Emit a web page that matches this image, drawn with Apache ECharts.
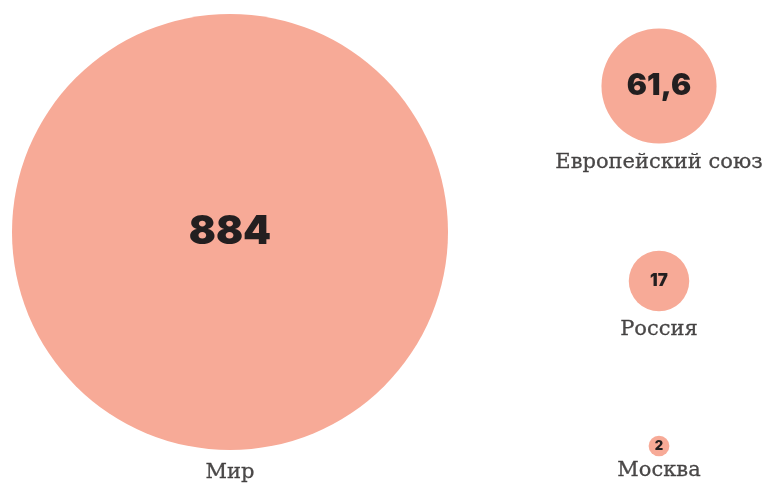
<!DOCTYPE html>
<html lang="ru">
<head>
    <meta charset="UTF-8">
    <title>Пузыри</title>
    <style>
        body { margin: 0; padding: 0; background: #fff; }
        #chart { width: 768px; height: 484px; }
    </style>
    <script src="https://cdn.jsdelivr.net/npm/echarts@6/dist/echarts.min.js"></script>
</head>
<body>
    <div id="chart"></div>
    <script>
        // данные
        const names = ['Мир', 'Европейский союз', 'Россия', 'Москва'];
        const values = [884, 61.6, 17, 2];
        const valueLabels = ['884', '61,6', '17', '2'];

        // раскладка: центры кругов, размер шрифта числа, отступ подписи
        const posX = [230, 659, 659, 659];
        const posY = [232, 86, 281, 446];
        const numFont = [40, 30, 17, 13];
        const nameGap = [12, 9, 8, 4];

        const maxDiam = 436;
        const maxVal = values[0];
        function diam(v) {
            return maxDiam * Math.sqrt(v / maxVal);
        }

        const points = values.map((v, i) => [posX[i], posY[i], v, i]);

        const chart = echarts.init(document.getElementById('chart'));
        chart.setOption({
            animation: false,
            grid: { left: 0, right: 0, top: 0, bottom: 0 },
            xAxis: { type: 'value', min: 0, max: 768, show: false },
            yAxis: { type: 'value', min: 0, max: 484, inverse: true, show: false },
            series: [
                {
                    type: 'scatter',
                    data: points,
                    symbolSize: d => diam(d[2]),
                    itemStyle: { color: '#f7aa97', opacity: 1 },
                    label: {
                        show: true,
                        position: 'inside',
                        formatter: p => valueLabels[p.data[3]],
                        color: '#231f20',
                        fontFamily: 'Inter',
                        fontWeight: 900
                    },
                    labelLayout: p => ({ fontSize: numFont[p.dataIndex] })
                },
                {
                    type: 'scatter',
                    data: points.map((d, i) => ({
                        value: d,
                        label: { distance: nameGap[i] }
                    })),
                    symbolSize: d => diam(d[2]),
                    itemStyle: { color: 'rgba(0,0,0,0)' },
                    silent: true,
                    label: {
                        show: true,
                        position: 'bottom',
                        formatter: p => names[p.value[3]],
                        color: '#1e1b1c',
                        fontFamily: 'DejaVu Serif',
                        fontSize: 21,
                        textBorderColor: '#1e1b1c',
                        textBorderWidth: 0.3
                    }
                }
            ]
        });
    </script>
</body>
</html>
